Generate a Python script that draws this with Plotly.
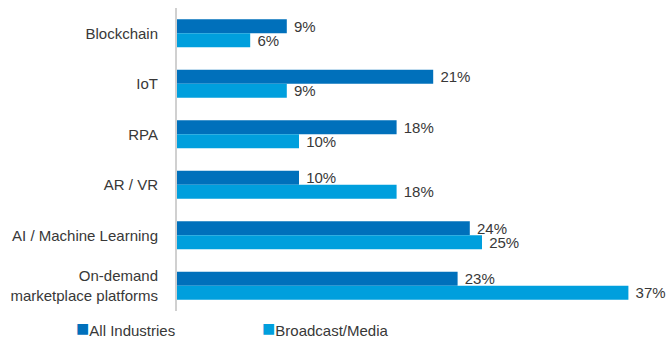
import plotly.graph_objects as go

categories = ["Blockchain", "IoT", "RPA", "AR / VR", "AI / Machine Learning",
              "On-demand<br>marketplace platforms"]
series_names = ["All Industries", "Broadcast/Media"]
all_industries = [9, 21, 18, 10, 24, 23]
broadcast_media = [6, 9, 10, 18, 25, 37]
colors = ["#0070BB", "#009FDD"]

FONT = "Liberation Sans, Arial, sans-serif"
TXT = "#383838"

fig = go.Figure()
for name, vals, col in zip(series_names, [all_industries, broadcast_media], colors):
    fig.add_trace(go.Bar(
        y=categories, x=vals, name=name, orientation="h",
        marker=dict(color=col, line=dict(width=0)),
        text=[f"\u00a0{v}%" for v in vals],
        textposition="outside", constraintext="none", cliponaxis=False,
        textfont=dict(family=FONT, size=15, color=TXT),
        hoverinfo="skip", showlegend=False,
    ))

# legend as annotations (square marker + label)
leg_x = [-0.211, 0.170]
for name, col, lx in zip(series_names, colors, leg_x):
    fig.add_annotation(
        xref="paper", yref="paper", x=lx, y=-0.058, xanchor="left", yanchor="middle",
        showarrow=False,
        text=f"<span style='color:{col};font-size:22px'>■</span>{name}",
        font=dict(family=FONT, size=15, color=TXT),
    )

fig.update_layout(
    width=670, height=340,
    margin=dict(l=177, r=5, t=8, b=29, autoexpand=False),
    paper_bgcolor="white", plot_bgcolor="white",
    barmode="group", bargap=0.445, bargroupgap=0,
    xaxis=dict(range=[0, 40], visible=False, showgrid=False, zeroline=False,
               automargin=False),
    yaxis=dict(autorange="reversed", showgrid=False, zeroline=False,
               automargin=False,
               showline=True, linecolor="#D0D0D0", linewidth=2,
               ticks="", ticklabelstandoff=14,
               tickfont=dict(family=FONT, size=15, color=TXT)),
    font=dict(family=FONT),
)

fig.write_html("out.html", config={"displayModeBar": False},
               post_script="document.body.style.margin='0';")
